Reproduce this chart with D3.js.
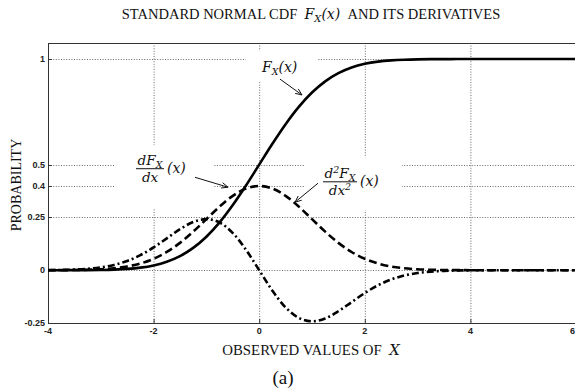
<!DOCTYPE html>
<html><head><meta charset="utf-8">
<script src="https://cdn.jsdelivr.net/npm/d3@7"></script>
<style>body{margin:0;background:#fff}svg{display:block}</style>
</head><body>
<svg id="c" width="575" height="392"></svg>
<script>
// ---- data ----
const xs = [-4,-3.75,-3.5,-3.25,-3,-2.75,-2.5,-2.25,-2,-1.75,-1.5,-1.25,-1,-0.75,-0.5,-0.25,0,0.25,0.5,0.75,1,1.25,1.5,1.75,2,2.25,2.5,2.75,3,3.25,3.5,3.75,4,4.5,5,5.5,6];
const cdf = [0.00003,0.00009,0.00023,0.00058,0.00135,0.00298,0.00621,0.01222,0.02275,0.04006,0.06681,0.10565,0.15866,0.22663,0.30854,0.40129,0.5,0.59871,0.69146,0.77337,0.84134,0.89435,0.93319,0.95994,0.97725,0.98778,0.99379,0.99702,0.99865,0.99942,0.99977,0.99991,0.99997,1,1,1,1];
const pdf = [0.00013,0.00035,0.00087,0.00203,0.00443,0.00909,0.01753,0.03174,0.05399,0.08628,0.12952,0.18265,0.24197,0.30114,0.35207,0.38667,0.39894,0.38667,0.35207,0.30114,0.24197,0.18265,0.12952,0.08628,0.05399,0.03174,0.01753,0.00909,0.00443,0.00203,0.00087,0.00035,0.00013,0.00002,0,0,0];
const dpdf = [0.00054,0.0013,0.0030,0.0066,0.0133,0.0250,0.0438,0.0714,0.1080,0.1510,0.1943,0.2283,0.2420,0.2259,0.1760,0.0967,0,-0.0967,-0.1760,-0.2259,-0.2420,-0.2283,-0.1943,-0.1510,-0.1080,-0.0714,-0.0438,-0.0250,-0.0133,-0.0066,-0.0030,-0.0013,-0.00054,-0.0001,0,0,0];
const xTicks = [-4,-2,0,2,4,6];
const yTicks = [-0.25,0,0.25,0.4,0.5,1];
const xGrid = [-2,0,2,4];
const yGrid = [0,0.25,0.4,0.5,1];

const svg = d3.select("#c");
const x = d3.scaleLinear().domain([-4,6]).range([48,576]);
const y = d3.scaleLinear().domain([-0.25,1.076]).range([323,43]);
const L=48,R=576,T=43,B=323;

// grid
const g = svg.append("g").attr("stroke","#444").attr("stroke-width",0.8).attr("stroke-dasharray","1,1.6");
g.selectAll("line.v").data(xGrid).join("line").attr("x1",d=>x(d)+0.5).attr("x2",d=>x(d)+0.5).attr("y1",T).attr("y2",B);
g.selectAll("line.h").data(yGrid).join("line").attr("x1",L).attr("x2",R).attr("y1",d=>Math.round(y(d))+0.5).attr("y2",d=>Math.round(y(d))+0.5);

// label masks (white boxes over grid)
const labels = [
  {kind:"F", cx:0.394, cy:0.962, box:[-34,-16,71,31], arrow:[[0.394,0.905],[0.81,0.83]]},
  {kind:"d1", cx:-2.068, cy:0.483, box:[-35,-23,98,63], arrow:[[-1.216,0.44],[-0.59,0.393]]},
  {kind:"d2", cx:1.53, cy:0.421, box:[-35,-24,97,53], arrow:[[1.114,0.412],[0.678,0.322]]}
];
svg.append("g").selectAll("rect").data(labels).join("rect")
  .attr("x",d=>x(d.cx)+d.box[0]).attr("y",d=>y(d.cy)+d.box[1])
  .attr("width",d=>d.box[2]).attr("height",d=>d.box[3]).attr("fill","#fff");

// frame
svg.append("rect").attr("x",L+0.5).attr("y",T+0.5).attr("width",R-L).attr("height",B-T)
  .attr("fill","none").attr("stroke","#333").attr("stroke-width",1);
// ticks inside
const tk = svg.append("g").attr("stroke","#333").attr("stroke-width",1);
tk.selectAll("line.xb").data(xTicks).join("line").attr("x1",d=>x(d)+0.5).attr("x2",d=>x(d)+0.5).attr("y1",B).attr("y2",B-4);
tk.selectAll("line.yl").data(yTicks).join("line").attr("x1",L).attr("x2",L+4).attr("y1",d=>Math.round(y(d))+0.5).attr("y2",d=>Math.round(y(d))+0.5);

// tick labels
const tf = "'Liberation Sans', Arial, sans-serif";
svg.append("g").selectAll("text").data(xTicks).join("text")
  .attr("x",d=>d===6?575:x(d)).attr("y",B+11).attr("text-anchor",d=>d===6?"end":"middle")
  .attr("font-family",tf).attr("font-size",9).attr("font-weight","bold").attr("fill","#222").text(d=>d);
svg.append("g").selectAll("text").data(yTicks).join("text")
  .attr("x",L-3).attr("y",d=>y(d)+3).attr("text-anchor","end")
  .attr("font-family",tf).attr("font-size",9).attr("font-weight","bold").attr("fill","#222").text(d=>d);

// curves
const pts = a => xs.map((v,i)=>[v,a[i]]);
const line = d3.line().x(d=>x(d[0])).y(d=>y(d[1])).curve(d3.curveCatmullRom.alpha(0.5));
const curves = [
  {d:pts(cdf), dash:null},
  {d:pts(pdf), dash:"8,4"},
  {d:pts(dpdf), dash:"7,3,2,3"}
];
svg.append("g").selectAll("path").data(curves).join("path")
  .attr("d",d=>line(d.d)).attr("fill","none").attr("stroke","#000").attr("stroke-width",2.6)
  .attr("stroke-dasharray",d=>d.dash);

// annotations
const mf = "'DejaVu Serif', 'Liberation Serif', serif";
labels.forEach(l=>{
  const cx=x(l.cx), cy=y(l.cy);
  const a = svg.append("g").attr("font-family",mf).attr("font-style","italic").attr("fill","#111");
  if(l.kind==="F"){
    const t=a.append("text").attr("x",cx-18).attr("y",cy+5).attr("font-size",14);
    t.append("tspan").text("F");
    t.append("tspan").attr("font-size",9.5).attr("dy",3).text("X");
    t.append("tspan").attr("dy",-3).text("(x)");
  } else {
    const t1=a.append("text").attr("x",cx).attr("y",cy-3).attr("font-size",13.5).attr("text-anchor","middle");
    if(l.kind==="d1"){ t1.append("tspan").text("dF"); t1.append("tspan").attr("font-size",9.5).attr("dy",3).text("X"); }
    else { t1.append("tspan").text("d"); t1.append("tspan").attr("font-size",9.5).attr("dy",-5).text("2"); t1.append("tspan").attr("dy",5).text("F"); t1.append("tspan").attr("font-size",9.5).attr("dy",3).text("X"); }
    const w = l.kind==="d1"?28:34;
    a.append("line").attr("x1",cx-w/2).attr("x2",cx+w/2).attr("y1",cy+0.5).attr("y2",cy+0.5).attr("stroke","#111").attr("stroke-width",1);
    const t2=a.append("text").attr("x",cx).attr("y",cy+14).attr("font-size",13.5).attr("text-anchor","middle");
    if(l.kind==="d1") t2.text("dx");
    else { t2.append("tspan").text("dx"); t2.append("tspan").attr("font-size",9.5).attr("dy",-5).text("2"); }
    a.append("text").attr("x",cx+w/2+3).attr("y",cy+5).attr("font-size",14).text("(x)");
  }
  // arrow
  const [p0,p1]=l.arrow; const x0=x(p0[0]),y0=y(p0[1]),x1=x(p1[0]),y1=y(p1[1]);
  const ang=Math.atan2(y1-y0,x1-x0), h=7, sp=0.4;
  svg.append("path").attr("fill","none").attr("stroke","#111").attr("stroke-width",1)
    .attr("d",`M${x0},${y0}L${x1},${y1}M${x1-h*Math.cos(ang-sp)},${y1-h*Math.sin(ang-sp)}L${x1},${y1}L${x1-h*Math.cos(ang+sp)},${y1-h*Math.sin(ang+sp)}`);
});

// titles
const sf = "'Liberation Serif', 'Times New Roman', serif";
const tt = svg.append("text").attr("x",311).attr("y",19).attr("text-anchor","middle").attr("font-family",sf).attr("font-size",14.5).attr("fill","#111");
tt.append("tspan").text("STANDARD NORMAL CDF\u00a0\u00a0");
tt.append("tspan").attr("font-family",mf).attr("font-style","italic").attr("font-size",14).text("F");
tt.append("tspan").attr("font-family",mf).attr("font-style","italic").attr("font-size",10).attr("dy",3).text("X");
tt.append("tspan").attr("font-family",mf).attr("font-style","italic").attr("font-size",14).attr("dy",-3).text("(x)");
tt.append("tspan").text("\u00a0\u00a0AND ITS DERIVATIVES");

const xl = svg.append("text").attr("x",311).attr("y",355).attr("text-anchor","middle").attr("font-family",sf).attr("font-size",14.8).attr("fill","#111");
xl.append("tspan").text("OBSERVED VALUES OF\u00a0\u00a0");
xl.append("tspan").attr("font-family",mf).attr("font-style","italic").text("X");

svg.append("text").attr("transform","translate(21,185) rotate(-90)").attr("text-anchor","middle")
  .attr("font-family",sf).attr("font-size",14).attr("fill","#111").text("PROBABILITY");

svg.append("text").attr("x",283).attr("y",384).attr("text-anchor","middle").attr("font-family",sf).attr("font-size",19).attr("fill","#111").text("(a)");
</script>
</body></html>
